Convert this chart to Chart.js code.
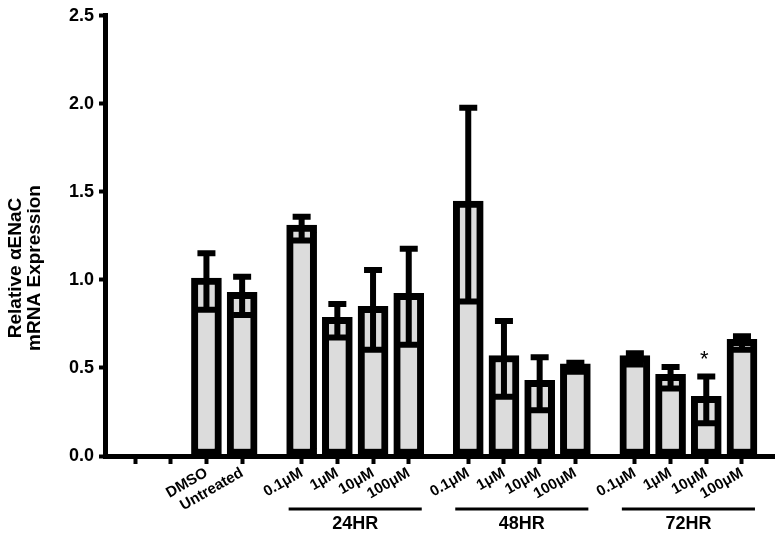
<!DOCTYPE html>
<html>
<head>
<meta charset="utf-8">
<script src="https://cdn.jsdelivr.net/npm/chart.js@4.4.1/dist/chart.umd.min.js"></script>
<style>
  html, body { margin: 0; padding: 0; background: #fff; }
  canvas { display: block; }
</style>
</head>
<body>
<canvas id="chart" width="775" height="538"></canvas>
<script>
// ── Data ───────────────────────────────────────────────────
const labels = ["", "", "DMSO", "Untreated",
  "0.1\u03bcM", "1\u03bcM", "10\u03bcM", "100\u03bcM",
  "0.1\u03bcM", "1\u03bcM", "10\u03bcM", "100\u03bcM",
  "0.1\u03bcM", "1\u03bcM", "10\u03bcM", "100\u03bcM"];
const groupOf = [0, 0, 0, 0, 1, 1, 1, 1, 2, 2, 2, 2, 3, 3, 3, 3];
const groupLabels = ["", "24HR", "48HR", "72HR"];
const means = [null, null, 1.011, 0.929, 1.311, 0.788, 0.850, 0.924,
  1.448, 0.571, 0.430, 0.524, 0.571, 0.464, 0.339, 0.662];
const sems = [null, null, 0.161, 0.109, 0.067, 0.095, 0.226, 0.273,
  0.550, 0.215, 0.150, 0.026, 0.032, 0.061, 0.133, 0.038];
const marks = ["", "", "", "", "", "", "", "", "", "", "", "", "", "", "*", ""];
const yTicks = [0, 0.5, 1.0, 1.5, 2.0, 2.5];

const FONT = "'Liberation Sans', Arial, Helvetica, sans-serif";
const GROUP_GAP = 2 / 3;   // extra space between groups, in bar slots
const BORDER = 7;

// slot position of each bar on the x axis
const pos = labels.map((_, i) => i + 1 + GROUP_GAP * groupOf[i]);

// ── Error bars, group brackets, title, significance ───────
const extras = {
  id: "extras",
  afterDatasetsDraw(chart) {
    const { ctx, scales: { y } } = chart;
    const meta = chart.getDatasetMeta(0);
    ctx.save();
    ctx.strokeStyle = "#000";
    ctx.lineWidth = 6;
    ctx.lineCap = "butt";
    meta.data.forEach((bar, i) => {
      if (means[i] == null) return;
      const c = y.getPixelForValue(means[i]) + BORDER / 2;
      const d = y.getPixelForValue(0) - y.getPixelForValue(sems[i]);
      const top = c - d, bot = c + d;
      ctx.beginPath();
      ctx.moveTo(bar.x, top); ctx.lineTo(bar.x, bot);
      ctx.moveTo(bar.x - 9, top); ctx.lineTo(bar.x + 9, top);
      ctx.moveTo(bar.x - 9, bot); ctx.lineTo(bar.x + 9, bot);
      ctx.stroke();
      if (marks[i]) {
        ctx.fillStyle = "#000";
        ctx.font = "22px " + FONT;
        ctx.textAlign = "center";
        ctx.textBaseline = "middle";
        ctx.fillText(marks[i], bar.x - 2, top - 16);
      }
    });
    ctx.restore();
  },
  afterDraw(chart) {
    const { ctx, scales: { x } } = chart;
    ctx.save();
    ctx.fillStyle = "#000";
    ctx.strokeStyle = "#000";

    // group brackets under the tick labels
    groupLabels.forEach((name, g) => {
      if (!name) return;
      const idx = groupOf.map((v, i) => (v === g ? i : -1)).filter((i) => i >= 0);
      const x0 = x.getPixelForValue(pos[idx[0]]) - 13;
      const x1 = x.getPixelForValue(pos[idx[idx.length - 1]]) + 13;
      ctx.lineWidth = 3;
      ctx.beginPath();
      ctx.moveTo(x0, 509); ctx.lineTo(x1, 509);
      ctx.stroke();
      ctx.font = "bold 18px " + FONT;
      ctx.textAlign = "center";
      ctx.textBaseline = "alphabetic";
      ctx.fillText(name, (x0 + x1) / 2, 529);
    });

    // y axis title, two lines
    ctx.translate(25, 268);
    ctx.rotate(-Math.PI / 2);
    ctx.font = "bold 19px " + FONT;
    ctx.textAlign = "center";
    ctx.textBaseline = "middle";
    ctx.fillText("Relative \u03b1ENaC", 0, -9);
    ctx.fillText("mRNA Expression", 0, 10);
    ctx.restore();
  },
};

new Chart(document.getElementById("chart"), {
  type: "bar",
  data: {
    datasets: [{
      data: means.map((m, i) => ({ x: pos[i], y: m })),
      backgroundColor: "#dcdcdc",
      borderColor: "#000",
      borderWidth: BORDER,
      borderSkipped: false,
      barThickness: 30,
    }],
  },
  options: {
    responsive: false,
    animation: false,
    layout: { padding: { top: 14, right: 1, left: 0, bottom: 0 } },
    plugins: { legend: { display: false }, tooltip: { enabled: false } },
    scales: {
      x: {
        type: "linear",
        bounds: "data",
        min: 0.159,
        max: 18.897,
        offset: false,
        afterBuildTicks: (axis) => { axis.ticks = pos.map((v) => ({ value: v })); },
        afterFit: (axis) => { axis.height = 82; },
        ticks: {
          autoSkip: false,
          minRotation: 30,
          maxRotation: 30,
          padding: 0,
          color: "#000",
          font: { family: FONT, size: 15, weight: "bold" },
          callback: (v, i) => labels[i],
        },
        grid: { offset: false, drawOnChartArea: false, tickLength: 8, tickWidth: 4, tickColor: "#000" },
        border: { width: 5, color: "#000" },
      },
      y: {
        min: 0,
        max: 2.5,
        afterBuildTicks: (axis) => { axis.ticks = yTicks.map((v) => ({ value: v })); },
        afterFit: (axis) => { axis.width = 105; },
        ticks: {
          padding: 5,
          color: "#000",
          font: { family: FONT, size: 18, weight: "bold" },
          callback: (v) => Number(v).toFixed(1),
        },
        grid: { drawOnChartArea: false, tickLength: 6, tickWidth: 4, tickColor: "#000" },
        border: { width: 5, color: "#000" },
      },
    },
  },
  plugins: [extras],
});
</script>
</body>
</html>
